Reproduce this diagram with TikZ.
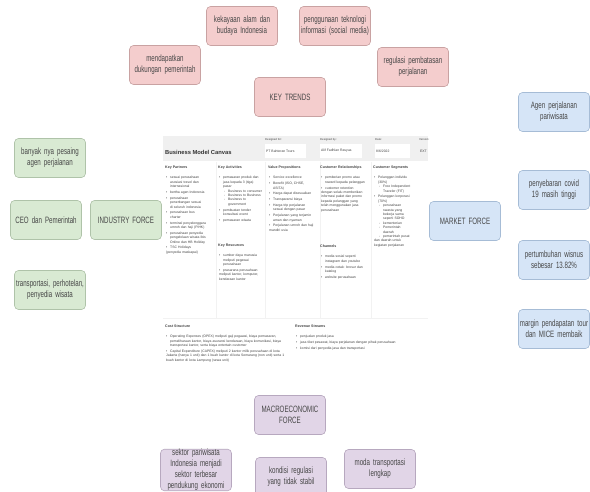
\documentclass[tikz,border=0pt]{standalone}
\usepackage{fontspec}
\setmainfont{Liberation Sans}
\newfontfamily\boxfont[FakeStretch=0.67]{Liberation Sans}
\hyphenpenalty=10000
\exhyphenpenalty=10000

\definecolor{trendFill}{HTML}{F4CDCD}
\definecolor{trendLine}{HTML}{C9A2A2}
\definecolor{indFill}  {HTML}{D9EAD3}
\definecolor{indLine}  {HTML}{AFC3A9}
\definecolor{mktFill}  {HTML}{D6E5F7}
\definecolor{mktLine}  {HTML}{A6BCD6}
\definecolor{macFill}  {HTML}{E1D5E7}
\definecolor{macLine}  {HTML}{B7A8BF}
\definecolor{bmcText}  {HTML}{444444}

\newcommand\bmcitem[1]{\par\vspace{1.4pt}\hangindent=4pt\hangafter=1\noindent\makebox[4pt][l]{\textbullet}#1}
\newcommand\bmcsub[1]{\par\hangindent=9pt\hangafter=1\noindent\hspace*{5pt}\makebox[4pt][l]{-}#1}

\tikzset{
  force/.style={draw, rounded corners=4pt, line width=0.6pt,
    minimum width=71pt, minimum height=39pt, text width=70pt,
    inner xsep=0.5pt, align=center, text=black!72,
    font=\boxfont\fontsize{9.2}{11}\selectfont},
  trend/.style={force, fill=trendFill, draw=trendLine},
  industry/.style={force, fill=indFill, draw=indLine},
  market/.style={force, fill=mktFill, draw=mktLine},
  macro/.style={force, fill=macFill, draw=macLine},
  bmchead/.style={anchor=north west, inner sep=0pt, text=bmcText,
    font=\bfseries\fontsize{3.6}{4.4}\selectfont},
  bmctext/.style={anchor=north west, inner sep=0pt, align=left, text=bmcText,
    font=\fontsize{3.4}{4.4}\selectfont},
  bmclabel/.style={anchor=west, inner sep=0pt, text=bmcText,
    font=\fontsize{2.8}{3}\selectfont},
  bmcfield/.style={fill=white}
}

\begin{document}
\begin{tikzpicture}[x=1pt, y=-1pt]
  \useasboundingbox[fill=white] (0,0) rectangle (590,492);

  % key trends
  \node[trend] (trendAlam)     at (242,26)  {kekayaan alam dan budaya Indonesia};
  \node[trend] (trendTekno)    at (335,26)  {penggunaan teknologi informasi (social media)};
  \node[trend] (trendDukung)   at (165,65)  {mendapatkan dukungan pemerintah};
  \node[trend] (trendRegulasi) at (413,67)  {regulasi pembatasan perjalanan};
  \node[trend] (keyTrends)     at (290,97)  {KEY TRENDS};

  % industry force
  \node[industry] (indPesaing)   at (50,158)  {banyak nya pesaing agen perjalanan};
  \node[industry] (indCeo)       at (46,220)  {CEO dan Pemerintah};
  \node[industry] (industry)     at (126,220) {INDUSTRY FORCE};
  \node[industry] (indTransport) at (50,290)  {transportasi, perhotelan, penyedia wisata};

  % market force
  \node[market] (mktAgen)   at (554,112) {Agen perjalanan pariwisata};
  \node[market] (market)    at (465,221) {MARKET FORCE};
  \node[market] (mktCovid)  at (554,190) {penyebaran covid 19 masih tinggi};
  \node[market] (mktWisnus) at (554,260) {pertumbuhan wisnus sebesar 13.82\%};
  \node[market] (mktMargin) at (554,329) {margin pendapatan tour dan MICE membaik};

  % macroeconomic force
  \node[macro] (macro)       at (290,415) {MACROECONOMIC FORCE};
  \node[macro, inner ysep=0pt] (macSektor) at (196,470)
       {sektor pariwisata Indonesia menjadi sektor terbesar pendukung ekonomi};
  \node[macro] (macRegulasi) at (291,477) {kondisi regulasi yang tidak stabil};
  \node[macro] (macModa)     at (380,469) {moda transportasi lengkap};

  % business model canvas
  \fill[gray!12] (163,136) rectangle (428,161);
  \node[anchor=west, inner sep=0pt, text=black!80,
        font=\bfseries\fontsize{5.8}{6}\selectfont] (bmcTitle) at (165,152)
       {Business Model Canvas};
  \node[bmclabel] (forLabel)  at (265,140) {Designed for:};
  \node[bmclabel] (byLabel)   at (320,140) {Designed by:};
  \node[bmclabel] (dateLabel) at (375,140) {Date:};
  \node[bmclabel] (verLabel)  at (419,140) {Version:};
  \fill[bmcfield] (265,144) rectangle (306,158);
  \fill[bmcfield] (320,144) rectangle (362,158);
  \fill[bmcfield] (375,144) rectangle (410,158);
  \node[bmclabel, font=\fontsize{3.4}{4}\selectfont] (forText)  at (266,151) {PT Bahteran Tours};
  \node[bmclabel, font=\fontsize{3.4}{4}\selectfont] (byText)   at (321,151) {Alif Fadhlan Rasyua};
  \node[bmclabel, font=\fontsize{3.4}{4}\selectfont] (dateText) at (376,151) {8/6/2022};
  \node[bmclabel, font=\fontsize{3.4}{4}\selectfont] (verText)  at (420,151) {EXT};

  \draw[gray!10] (216,162)--(216,318) (265,162)--(265,318)
                 (320,162)--(320,318) (371,162)--(371,318)
                 (163,318)--(428,318);

  \node[bmchead] (kpHead) at (165,166) {Key Partners};
  \node[bmctext, text width=40pt] (kpText) at (166,173) {%
    \bmcitem{sesuai perusahaan asosiasi travel dan internasional}
    \bmcitem{bertha agen Indonesia}
    \bmcitem{perusahaan penerbangan sesuai di seluruh indonesia}
    \bmcitem{perusahaan bus charter}
    \bmcitem{terminal penyelenggara umroh dan haji (PIHK)}
    \bmcitem{perusahaan penyedia pengelolaan wisata Ibis Online dan HB Holiday}
    \bmcitem{TSC Holidays (penyedia maskapai)}};

  \node[bmchead] (kaHead) at (218,166) {Key Activities};
  \node[bmctext, text width=44pt] (kaText) at (219,173) {%
    \bmcitem{pemasaran produk dan jasa kepada 3 (tiga) pasar}
    \bmcsub{Business to consumer}
    \bmcsub{Business to Business}
    \bmcsub{Business to government}
    \bmcitem{pembuatan tender konsultasi event}
    \bmcitem{pemasaran wisata}};

  \node[bmchead] (krHead) at (218,244) {Key Resources};
  \node[bmctext, text width=44pt] (krText) at (219,251) {%
    \bmcitem{sumber daya manusia meliputi pegawai perusahaan}
    \bmcitem{prasarana perusahaan meliputi kantor, komputer, kendaraan kantor}};

  \node[bmchead] (vpHead) at (268,166) {Value Propositions};
  \node[bmctext, text width=46pt] (vpText) at (269,173) {%
    \bmcitem{Service excellence}
    \bmcitem{Benefit (ISO, CHSE, ASITA)}
    \bmcitem{Harga dapat disesuaikan}
    \bmcitem{Transparansi biaya}
    \bmcitem{Harga trip perjalanan sesuai dengan pasar}
    \bmcitem{Perjalanan yang terjamin aman dan nyaman}
    \bmcitem{Perjalanan umroh dan haji mandiri usia}};

  \node[bmchead] (crHead) at (320,166) {Customer Relationships};
  \node[bmctext, text width=45pt] (crText) at (321,173) {%
    \bmcitem{pemberian promo atau reward kepada pelanggan}
    \bmcitem{customer retention dengan selalu memberikan informasi paket dan promo kepada pelanggan yang telah menggunakan jasa perusahaan}};

  \node[bmchead] (chHead) at (320,245) {Channels};
  \node[bmctext, text width=45pt] (chText) at (321,252) {%
    \bmcitem{media sosial seperti instagram dan youtube}
    \bmcitem{media cetak: brosur dan katalog}
    \bmcitem{website perusahaan}};

  \node[bmchead] (csHead) at (373,166) {Customer Segments};
  \node[bmctext, text width=38pt] (csText) at (374,173) {%
    \bmcitem{Pelanggan individu (30\%)}
    \bmcsub{Free Independent Traveler (FIT)}
    \bmcitem{Pelanggan korporasi (70\%)}
    \bmcsub{perusahaan swasta yang bekerja sama seperti SOHO}
    \bmcsub{kementerian}
    \bmcsub{Pemerintah daerah}
    \bmcsub{pemerintah pusat dan daerah untuk kegiatan perjalanan}};

  \node[bmchead] (costHead) at (165,325) {Cost Structure};
  \node[bmctext, text width=122pt] (costText) at (166,332) {%
    \bmcitem{Operating Expenses (OPEX) meliputi gaji pegawai, biaya pemasaran, pemeliharaan kantor, biaya asuransi kendaraan, biaya komunikasi, biaya transportasi kantor, serta biaya entertain customer}
    \bmcitem{Capital Expenditure (CAPEX) meliputi 2 kantor milik perusahaan di kota Jakarta (hanya 1 unit) dan 1 buah kantor di kota Semarang (non unit) serta 1 buah kantor di kota Lampung (sewa unit)}};

  \node[bmchead] (revHead) at (295,325) {Revenue Streams};
  \node[bmctext, text width=122pt] (revText) at (296,332) {%
    \bmcitem{penjualan produk jasa}
    \bmcitem{jasa tiket pesawat, biaya perjalanan dengan pihak perusahaan}
    \bmcitem{komisi dari penyedia jasa dan transportasi}};
\end{tikzpicture}
\end{document}
